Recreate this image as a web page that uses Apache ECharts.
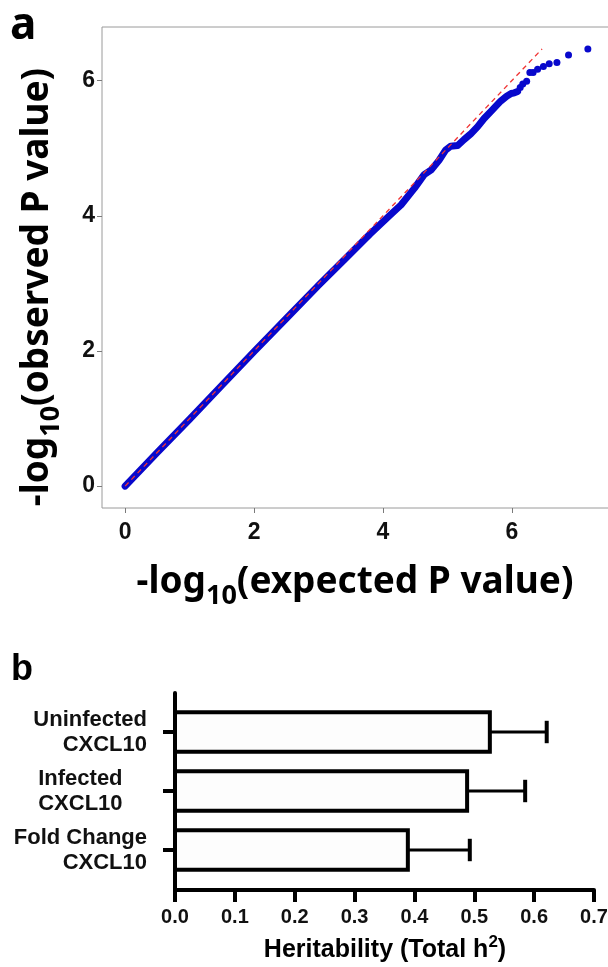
<!DOCTYPE html>
<html>
<head>
<meta charset="utf-8">
<script src="https://cdn.jsdelivr.net/npm/echarts@6/dist/echarts.min.js"></script>
<style>
  html, body { margin: 0; padding: 0; background: #fff; }
  #main { width: 608px; height: 967px; }
</style>
</head>
<body>
<div id="main"></div>
<script>
// panel a: QQ plot, dense part of the curve
var qqExpected = [0, 0.5, 1, 1.5, 2, 2.5, 3, 3.4, 3.8, 4.1, 4.28, 4.49, 4.64, 4.75, 4.87, 4.97, 5.05, 5.16, 5.26, 5.36, 5.47, 5.57, 5.68, 5.76, 5.83, 5.92, 5.99, 6.04, 6.09];
var qqObserved = [0, 0.5, 0.99, 1.49, 1.99, 2.48, 2.97, 3.35, 3.73, 4.0, 4.16, 4.41, 4.61, 4.68, 4.82, 4.97, 5.03, 5.04, 5.13, 5.21, 5.32, 5.44, 5.55, 5.63, 5.7, 5.77, 5.81, 5.82, 5.84];
// panel a: separate points in the tail
var tailExpected = [6.13, 6.17, 6.23, 6.28, 6.33, 6.4, 6.49, 6.58, 6.7, 6.88, 7.18];
var tailObserved = [5.9, 5.95, 5.99, 6.12, 6.12, 6.17, 6.21, 6.25, 6.27, 6.38, 6.47];
// y = x reference line end points
var refLine = [0, 6.47];
var qqTicks = [0, 2, 4, 6];

// panel b: heritability, listed bottom to top
var heritCats = ['Fold Change\nCXCL10', 'Infected    \nCXCL10    ', 'Uninfected\nCXCL10'];
var heritValues = [0.389, 0.488, 0.526];
var heritUpper = [0.4925, 0.585, 0.621];

function zip(a, b) {
  var out = [];
  for (var i = 0; i < a.length; i++) out.push([a[i], b[i]]);
  return out;
}

var blue = '#0808cc';
var barHalf = 0.333;
var capHalf = 0.19;

var barData = heritValues.map(function (v, i) { return [v, i, heritUpper[i]]; });

var option = {
  animation: false,
  grid: [
    { left: 102, top: 27, width: 509, height: 481, show: true, borderColor: '#9a9a9a', borderWidth: 1, outerBoundsMode: 'none' },
    { left: 175, top: 693, right: 14, bottom: 77, outerBoundsMode: 'none' }
  ],
  xAxis: [
    {
      gridIndex: 0, type: 'value', min: -0.359, max: 7.539,
      axisLine: { show: false, onZero: false },
      axisTick: { customValues: qqTicks, length: 5, lineStyle: { color: '#7a7a7a' } },
      axisLabel: { customValues: qqTicks, margin: 13, fontSize: 23, fontWeight: 'bold', fontFamily: 'Liberation Sans', color: '#111' },
      splitLine: { show: false }
    },
    {
      gridIndex: 1, type: 'value', min: 0, max: 0.7, interval: 0.1,
      axisLine: { show: true, onZero: false, lineStyle: { color: '#000', width: 4 } },
      axisTick: { length: 12, lineStyle: { color: '#000', width: 4 } },
      axisLabel: {
        margin: 17, fontSize: 20, fontWeight: 'bold', fontFamily: 'Liberation Sans', color: '#111',
        formatter: function (v) { return v.toFixed(1); }
      },
      splitLine: { show: false }
    }
  ],
  yAxis: [
    {
      gridIndex: 0, type: 'value', min: -0.3235, max: 6.794,
      axisLine: { show: false, onZero: false },
      axisTick: { customValues: qqTicks, length: 5, lineStyle: { color: '#7a7a7a' } },
      axisLabel: { customValues: qqTicks, margin: 7, fontSize: 23, fontWeight: 'bold', fontFamily: 'Liberation Sans', color: '#111' },
      splitLine: { show: false }
    },
    {
      gridIndex: 1, type: 'value', min: -0.678, max: 2.661,
      axisLine: { show: true, onZero: false, lineStyle: { color: '#000', width: 4 } },
      axisTick: { customValues: [0, 1, 2], length: 12, lineStyle: { color: '#000', width: 4 } },
      axisLabel: {
        customValues: [0, 1, 2], margin: 28, fontSize: 22, lineHeight: 25, fontWeight: 'bold',
        fontFamily: 'Liberation Sans', color: '#111',
        formatter: function (v) { return heritCats[Math.round(v)]; }
      },
      splitLine: { show: false }
    }
  ],
  series: [
    {
      type: 'line', xAxisIndex: 0, yAxisIndex: 0,
      data: zip(qqExpected, qqObserved),
      symbol: 'none', silent: true, z: 2,
      lineStyle: { color: blue, width: 7, cap: 'round', join: 'round' }
    },
    {
      type: 'scatter', xAxisIndex: 0, yAxisIndex: 0,
      data: zip(tailExpected, tailObserved),
      symbolSize: 7, silent: true, z: 3,
      itemStyle: { color: blue, opacity: 1 }
    },
    {
      type: 'line', xAxisIndex: 0, yAxisIndex: 0,
      data: [[refLine[0], refLine[0]], [refLine[1], refLine[1]]],
      symbol: 'none', silent: true, z: 5,
      lineStyle: { color: '#f03434', width: 1.3, type: [5, 4] }
    },
    {
      type: 'custom', xAxisIndex: 1, yAxisIndex: 1,
      data: barData,
      encode: { x: [0, 2], y: 1 },
      silent: true,
      renderItem: function (params, api) {
        var v = api.value(0), pos = api.value(1), up = api.value(2);
        var a = api.coord([0, pos + barHalf]);
        var b = api.coord([v, pos - barHalf]);
        var e0 = api.coord([v, pos]);
        var e1 = api.coord([up, pos]);
        var c0 = api.coord([up, pos + capHalf]);
        var c1 = api.coord([up, pos - capHalf]);
        return {
          type: 'group',
          children: [
            { type: 'line', shape: { x1: e0[0], y1: e0[1], x2: e1[0], y2: e1[1] }, style: { stroke: '#000', lineWidth: 3 } },
            { type: 'line', shape: { x1: c0[0], y1: c0[1], x2: c1[0], y2: c1[1] }, style: { stroke: '#000', lineWidth: 4 } },
            { type: 'rect', shape: { x: a[0], y: a[1], width: b[0] - a[0], height: b[1] - a[1] }, style: { fill: '#fdfdfd', stroke: '#000', lineWidth: 4 } }
          ]
        };
      }
    }
  ],
  graphic: [
    { type: 'text', x: 10, y: 26, style: { text: 'a', fontSize: 44, fontWeight: 'bold', fontFamily: 'Noto Sans', fill: '#000', align: 'left', verticalAlign: 'middle' } },
    { type: 'text', x: 11, y: 670, style: { text: 'b', fontSize: 36, fontWeight: 'bold', fontFamily: 'Liberation Sans', fill: '#000', align: 'left', verticalAlign: 'middle' } },
    {
      type: 'text', x: 355, y: 582,
      style: {
        text: '{m|-log}{s|10}{m|(expected P value)}', align: 'center', verticalAlign: 'middle', fill: '#000',
        rich: {
          m: { fontSize: 37, lineHeight: 56, fontWeight: 'bold', fontFamily: 'Noto Sans', fill: '#000' },
          s: { fontSize: 27, lineHeight: 27, verticalAlign: 'bottom', fontWeight: 'bold', fontFamily: 'Noto Sans', fill: '#000' }
        }
      }
    },
    {
      type: 'text', x: 37, y: 287, rotation: Math.PI / 2,
      style: {
        text: '{m|-log}{s|10}{m|(observed P value)}', align: 'center', verticalAlign: 'middle', fill: '#000',
        rich: {
          m: { fontSize: 37, lineHeight: 56, fontWeight: 'bold', fontFamily: 'Noto Sans', fill: '#000' },
          s: { fontSize: 27, lineHeight: 27, verticalAlign: 'bottom', fontWeight: 'bold', fontFamily: 'Noto Sans', fill: '#000' }
        }
      }
    },
    {
      type: 'text', x: 385, y: 950,
      style: {
        text: '{m|Heritability (Total h}{p|2}{m|)}', align: 'center', verticalAlign: 'middle', fill: '#000',
        rich: {
          m: { fontSize: 25, lineHeight: 32, fontWeight: 'bold', fontFamily: 'Liberation Sans', fill: '#000' },
          p: { fontSize: 17, lineHeight: 17, verticalAlign: 'top', fontWeight: 'bold', fontFamily: 'Liberation Sans', fill: '#000' }
        }
      }
    }
  ]
};

var chart = echarts.init(document.getElementById('main'));
chart.setOption(option);
</script>
</body>
</html>
